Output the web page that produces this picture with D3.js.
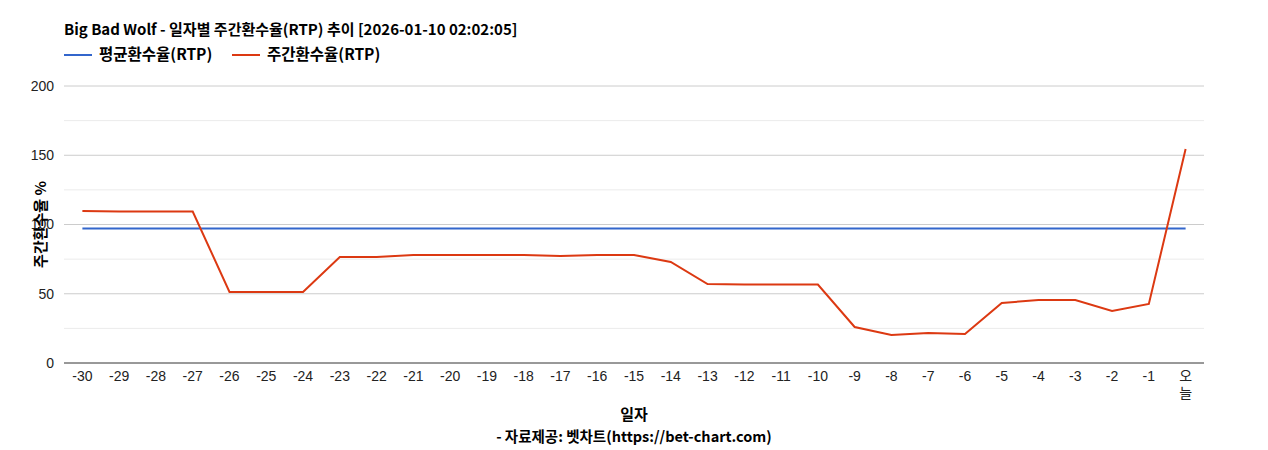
<!DOCTYPE html>
<html><head><meta charset="utf-8">
<script src="https://cdn.jsdelivr.net/npm/d3@7"></script>
<style>body{margin:0;background:#fff;font-family:"Liberation Sans","Noto Sans CJK KR",sans-serif}</style>
</head><body><div id="chart"></div>
<script>
var days = ["-30","-29","-28","-27","-26","-25","-24","-23","-22","-21","-20","-19","-18","-17","-16","-15","-14","-13","-12","-11","-10","-9","-8","-7","-6","-5","-4","-3","-2","-1","오늘"];
var weeklyRtp = [109.7,109.4,109.4,109.4,51.3,51.3,51.3,76.5,76.5,78,78,78,78,77.3,78,78,73,57,56.7,56.7,56.7,26,20.2,21.7,21,43.3,45.5,45.5,37.5,42.6,154.5];
var avgRtp = 97.1;
var yTicks = [0,50,100,150,200];

var W = 1268, H = 450;
var m = {top: 86, right: 64, bottom: 87, left: 64};
var cw = W - m.left - m.right, ch = H - m.top - m.bottom;
var tickFont = "'Liberation Sans',Arial,'Noto Sans CJK KR',sans-serif";
var krFont = "'Noto Sans CJK KR',sans-serif";

var svg = d3.select("#chart").append("svg").attr("width", W).attr("height", H);
var g = svg.append("g").attr("transform", `translate(${m.left},${m.top})`);

var x = d3.scaleBand().domain(days).range([0, cw]);
var y = d3.scaleLinear().domain([0, 200]).range([ch, 0]);
var cx = d => x(d) + x.bandwidth() / 2;

// minor gridlines
g.selectAll(".minor").data([25,75,125,175]).enter().append("line")
    .attr("x1", 0).attr("x2", cw).attr("y1", d => y(d)).attr("y2", d => y(d))
    .attr("stroke", "#ebebeb");
// major gridlines
g.selectAll(".major").data(yTicks.slice(1)).enter().append("line")
    .attr("x1", 0).attr("x2", cw).attr("y1", d => y(d)).attr("y2", d => y(d))
    .attr("stroke", "#cccccc");

var yAxis = g.append("g").call(d3.axisLeft(y).tickValues(yTicks).tickSize(0).tickPadding(10));
yAxis.select(".domain").remove();
yAxis.attr("font-family", null);
yAxis.selectAll("text").attr("font-size", 14).attr("fill", "#222").style("font-family", tickFont);

g.append("line").attr("x1", 0).attr("x2", cw).attr("y1", ch).attr("y2", ch).attr("stroke", "#333");

var xAxis = g.append("g").attr("transform", `translate(0,${ch})`)
    .call(d3.axisBottom(x).tickSize(0).tickPadding(8));
xAxis.select(".domain").remove();
xAxis.attr("font-family", null);
xAxis.selectAll("text").attr("font-size", 14).attr("fill", "#222").style("font-family", tickFont)
    .each(function(d) {
        if (d === "오늘") {
            var t = d3.select(this).text(null);
            t.append("tspan").attr("x", 0).attr("dy", "0.71em").text("오");
            t.append("tspan").attr("x", 0).attr("dy", "1.2em").text("늘");
        }
    });

var line = d3.line().x((d, i) => cx(days[i])).y(d => y(d));
g.append("path").datum(days.map(() => avgRtp)).attr("d", line)
    .attr("fill", "none").attr("stroke", "#3366cc").attr("stroke-width", 2);
g.append("path").datum(weeklyRtp).attr("d", line)
    .attr("fill", "none").attr("stroke", "#dc3912").attr("stroke-width", 2);

// title
svg.append("text").attr("x", 64).attr("y", 35).attr("font-size", 15).attr("font-weight", "bold")
    .style("font-family", krFont).attr("fill", "#000")
    .text("Big Bad Wolf - 일자별 주간환수율(RTP) 추이 [2026-01-10 02:02:05]");

// legend
var legend = [{name: "평균환수율(RTP)", color: "#3366cc", x: 64}, {name: "주간환수율(RTP)", color: "#dc3912", x: 232}];
legend.forEach(function(l) {
    svg.append("line").attr("x1", l.x).attr("x2", l.x + 28).attr("y1", 55).attr("y2", 55)
        .attr("stroke", l.color).attr("stroke-width", 2);
    svg.append("text").attr("x", l.x + 35).attr("y", 60).attr("font-size", 15.5).attr("font-weight", "bold")
        .style("font-family", krFont).text(l.name);
});

// axis titles
svg.append("text").attr("transform", `translate(46,${m.top + ch / 2}) rotate(-90)`)
    .attr("text-anchor", "middle").attr("font-size", 15).attr("font-weight", "bold")
    .style("font-family", krFont).text("주간환수율 %");
svg.append("text").attr("x", m.left + cw / 2).attr("y", 420).attr("text-anchor", "middle")
    .attr("font-size", 15).attr("font-weight", "bold").style("font-family", krFont).text("일자");
svg.append("text").attr("x", m.left + cw / 2).attr("y", 442).attr("text-anchor", "middle")
    .attr("font-size", 14.5).attr("font-weight", "bold").style("font-family", krFont)
    .text("- 자료제공: 벳차트(https://bet-chart.com)");
</script></body></html>
